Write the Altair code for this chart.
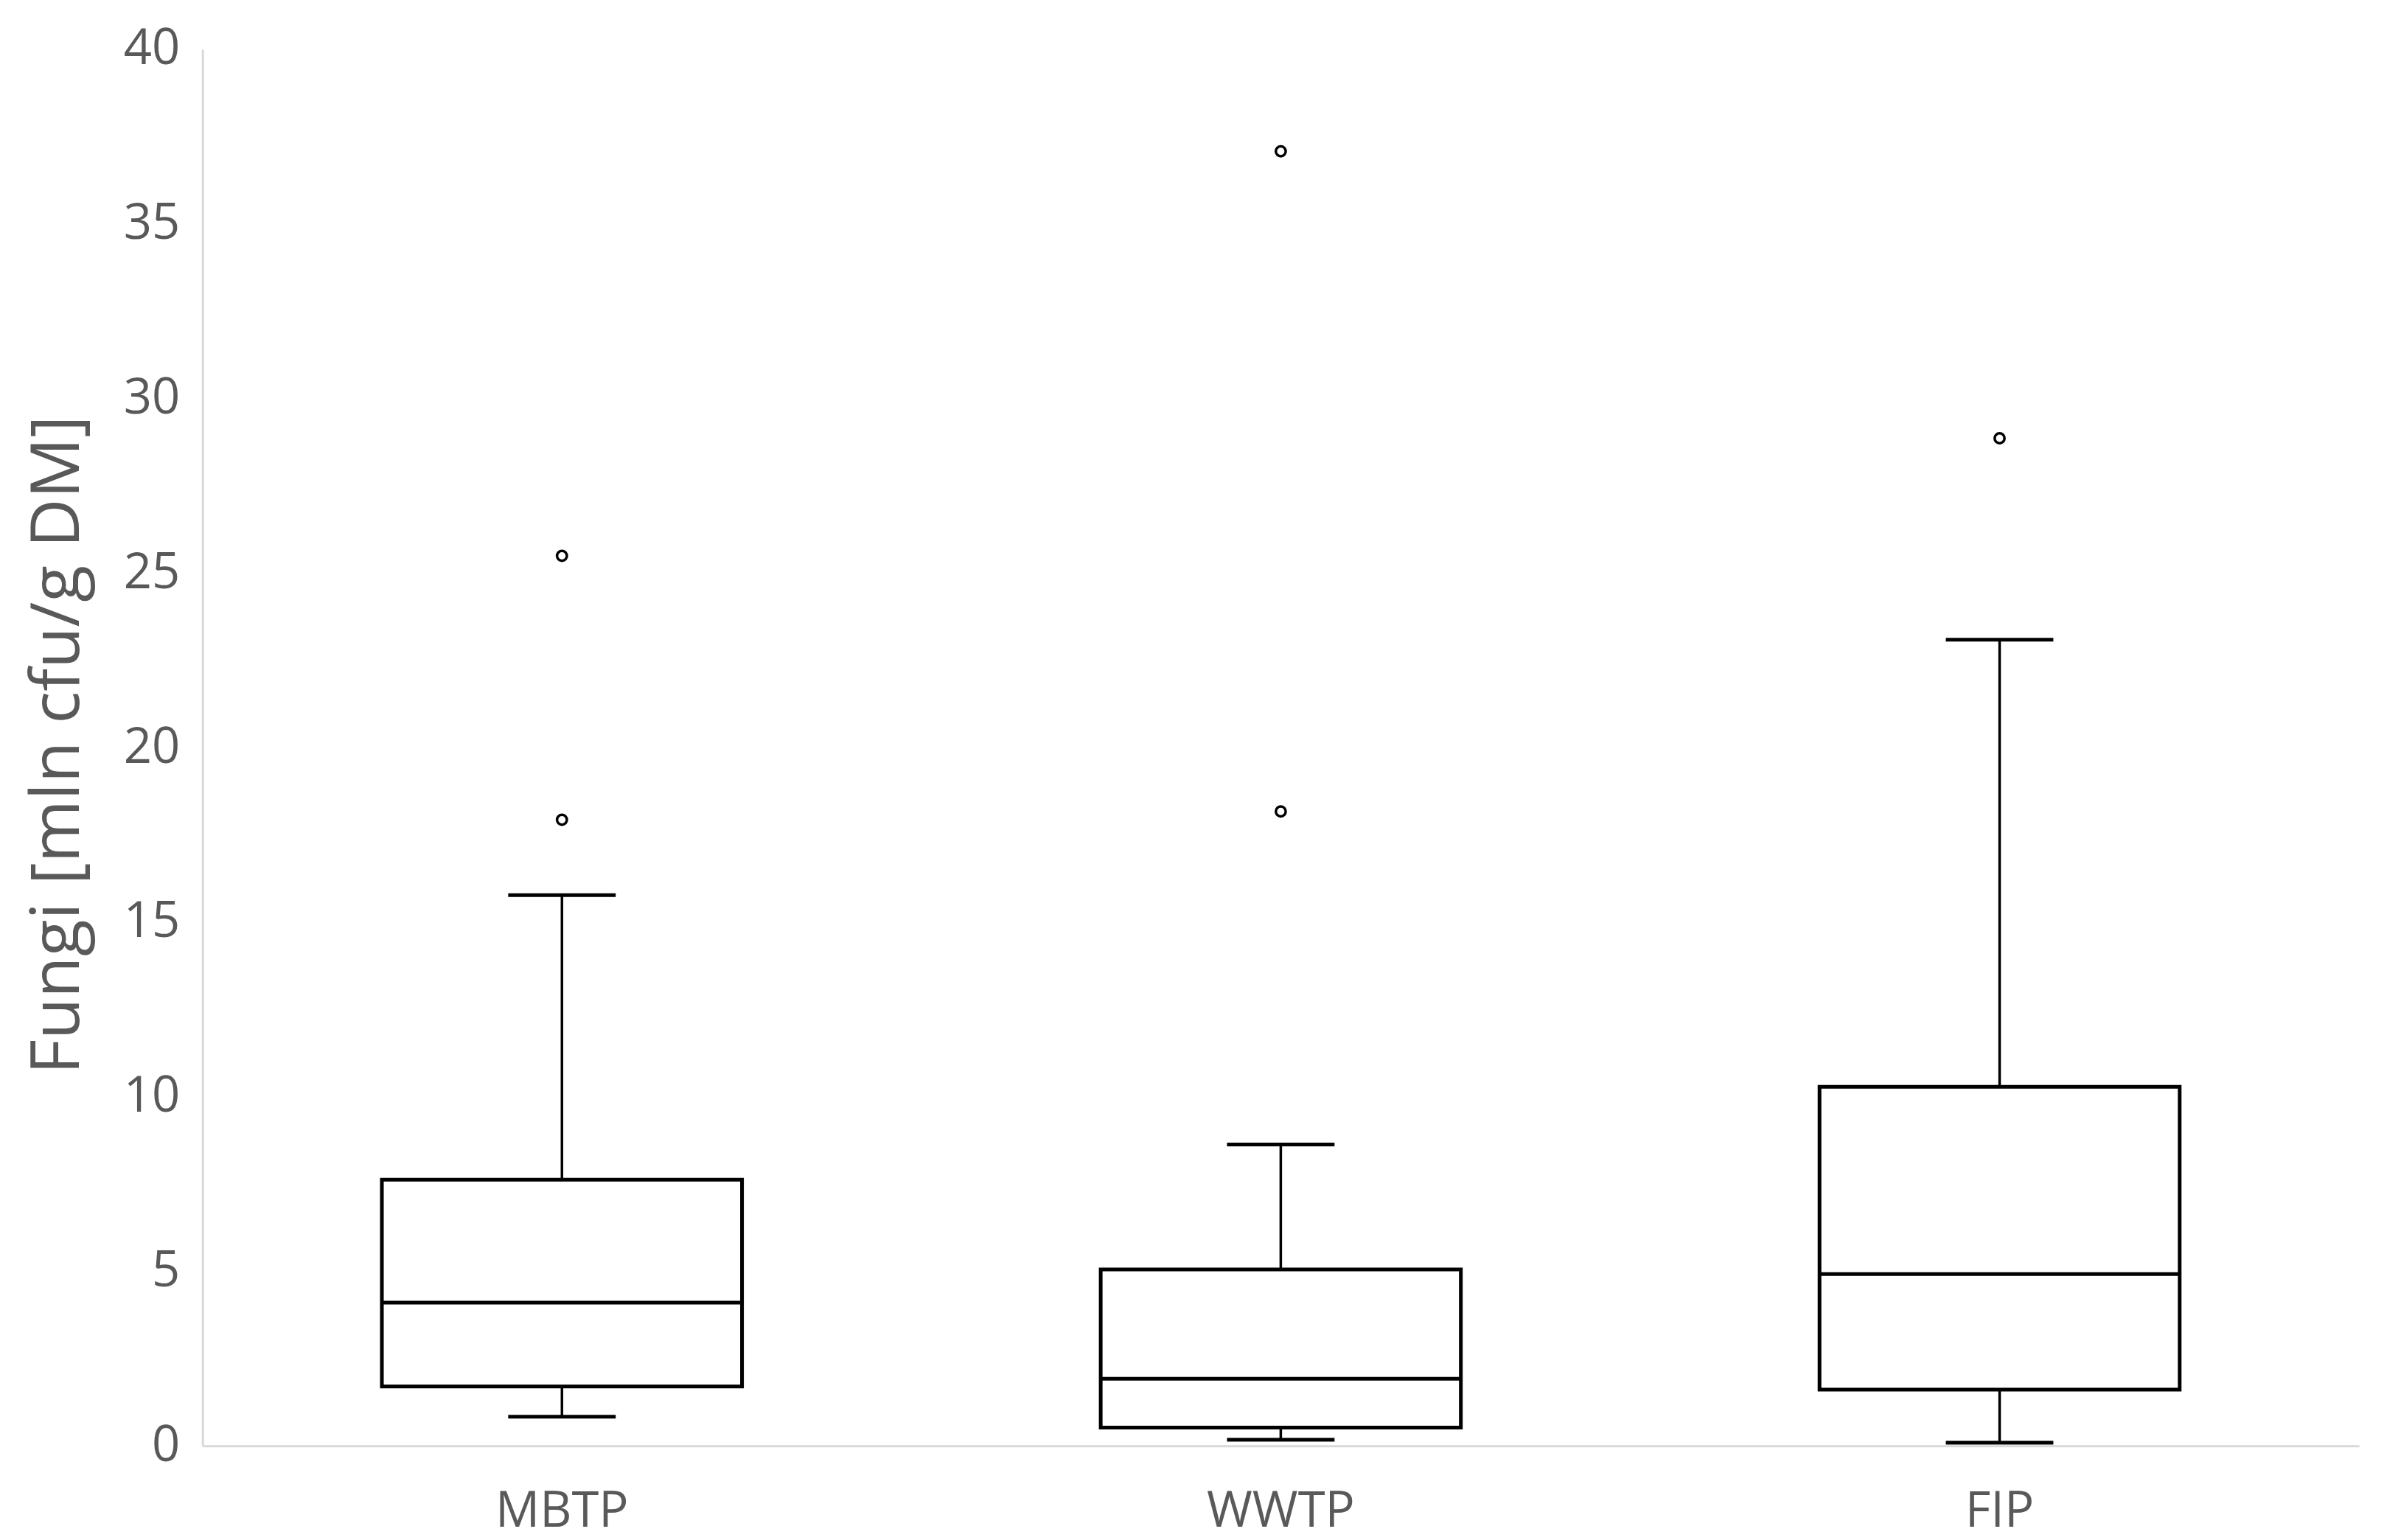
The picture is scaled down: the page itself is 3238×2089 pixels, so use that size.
import altair as alt
import pandas as pd

categories = ["MBTP", "WWTP", "FIP"]
lower = [0.83, 0.17, 0.09]
q1 = [1.70, 0.52, 1.61]
median = [4.10, 1.92, 4.92]
q3 = [7.62, 5.05, 10.28]
upper = [15.77, 8.63, 23.09]

outlier_cat = ["MBTP", "MBTP", "WWTP", "WWTP", "FIP"]
outlier_val = [25.49, 17.93, 37.08, 18.17, 28.86]

y_ticks = [0, 5, 10, 15, 20, 25, 30, 35, 40]

stats = pd.DataFrame({"cat": categories, "lower": lower, "q1": q1,
                      "median": median, "q3": q3, "upper": upper})
outs = pd.DataFrame({"cat": outlier_cat, "val": outlier_val})

FONT = "Open Sans"
TXT = "#595959"
AX = "#D9D9D9"

x_enc = alt.X("cat:N", sort=categories, title=None,
              scale=alt.Scale(paddingInner=0, paddingOuter=0),
              axis=alt.Axis(labelAngle=0, labelFont=FONT, labelFontSize=67,
                            labelColor=TXT, ticks=False, tickSize=0,
                            labelLimit=0,
                            labelPadding=56, domainColor=AX, domainWidth=3,
                            grid=False))
y_scale = alt.Scale(domain=[0, 40], nice=False)
y_axis = alt.Axis(values=y_ticks, grid=False, ticks=False, tickSize=0,
                  labelFont=FONT, labelFontSize=67, labelColor=TXT,
                  labelPadding=31, domainColor=AX, domainWidth=3,
                  title="Fungi [mln cfu/g DM]", titleFont=FONT,
                  titleFontSize=92, titleFontWeight="normal", titleColor=TXT,
                  titleAngle=-90, titleX=-168, titleY=944,
                  titleAlign="center", titleBaseline="alphabetic")

base = alt.Chart(stats)

whisker = base.mark_rule(color="black", strokeWidth=3.5, opacity=1).encode(
    x=x_enc,
    y=alt.Y("lower:Q", scale=y_scale, axis=y_axis),
    y2="upper:Q",
)
box = base.mark_bar(size=489, fill="white", stroke="black",
                    strokeWidth=5, opacity=1).encode(
    x=x_enc, y=alt.Y("q1:Q", scale=y_scale), y2="q3:Q")
med = base.mark_tick(size=489, thickness=5, color="black",
                     opacity=1).encode(
    x=x_enc, y=alt.Y("median:Q", scale=y_scale))
cap_lo = base.mark_tick(size=146, thickness=5, color="black",
                        opacity=1).encode(
    x=x_enc, y=alt.Y("lower:Q", scale=y_scale))
cap_hi = base.mark_tick(size=146, thickness=5, color="black",
                        opacity=1).encode(
    x=x_enc, y=alt.Y("upper:Q", scale=y_scale))
pts = alt.Chart(outs).mark_point(shape="circle", filled=False, color="black",
                                 size=180, strokeWidth=3.5, opacity=1).encode(
    x=x_enc, y=alt.Y("val:Q", scale=y_scale))

chart = alt.layer(whisker, box, med, cap_lo, cap_hi, pts).properties(
    width=2928, height=1896,
    autosize=alt.AutoSizeParams(type="none"),
    padding={"left": 267, "top": 58, "right": 30, "bottom": 118},
    background="white",
).configure_view(stroke=None)

chart.save("out.html", embed_options={"renderer": "svg", "actions": False})
